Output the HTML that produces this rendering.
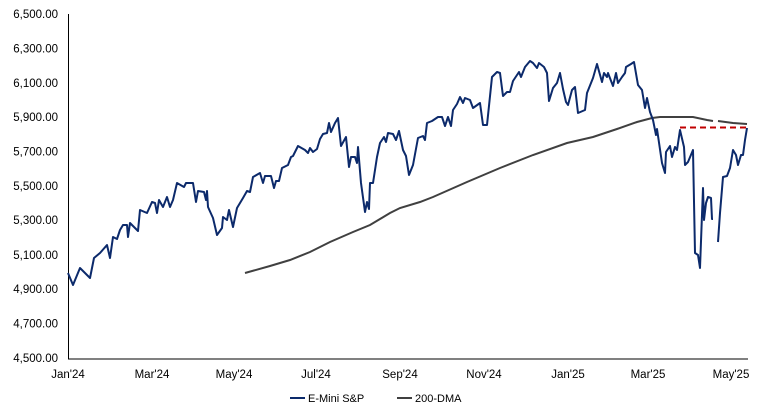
<!DOCTYPE html>
<html><head><meta charset="utf-8"><style>
html,body{margin:0;padding:0;background:#fff;}
svg{display:block;font-family:"Liberation Sans",Arial,sans-serif;}
</style></head><body>
<svg width="772" height="411" viewBox="0 0 772 411">
<g font-size="11.5" fill="#000" text-anchor="end">
<text x="58" y="18">6,500.00</text>
<text x="58" y="52.5">6,300.00</text>
<text x="58" y="87">6,100.00</text>
<text x="58" y="121">5,900.00</text>
<text x="58" y="155.5">5,700.00</text>
<text x="58" y="190">5,500.00</text>
<text x="58" y="224">5,300.00</text>
<text x="58" y="259">5,100.00</text>
<text x="58" y="293">4,900.00</text>
<text x="58" y="327.5">4,700.00</text>
<text x="58" y="362">4,500.00</text>
</g>
<g font-size="11.5" fill="#000" text-anchor="middle">
<text x="68" y="378">Jan'24</text>
<text x="152" y="378">Mar'24</text>
<text x="234" y="378">May'24</text>
<text x="316" y="378">Jul'24</text>
<text x="400" y="378">Sep'24</text>
<text x="484" y="378">Nov'24</text>
<text x="568" y="378">Jan'25</text>
<text x="648" y="378">Mar'25</text>
<text x="731" y="378">May'25</text>
</g>
<path d="M68.5 14V359H748" fill="none" stroke="#000" stroke-width="1"/>
<polyline fill="none" stroke="#404040" stroke-width="2" points="245,273 270,266 290,260 310,252 330,242 353,232 370,225 390,213 400,208 420,202 433,197 467,182 500,168 533,155 567,143 593,137 617,129 637,122 652,118 660,117 673,117 693,117 707,120 713,121"/>
<polyline fill="none" stroke="#404040" stroke-width="2" points="718,121 733,123 747,124"/>
<line x1="680" y1="127.5" x2="747" y2="127.5" stroke="#c00000" stroke-width="2" stroke-dasharray="6,4"/>
<polyline fill="none" stroke="#0c2a6b" stroke-width="2" stroke-linejoin="round" points="68,273 73,285 80,268 90,278 94,258 100,253 107,245 110,258 113,237 117,239 120,230 123,225 127,225 128,237 130,223 138,231 140,210 147,213 152,202 155,203 157,213 159,200 163,207 167,197 170,207 173,200 177,183 184,187 186,183 193,183 196,202 198,191 204,192 206,200 207,191 208,207 213,218 217,235 222,228 223,217 227,220 229,210 233,227 237,208 243,198 247,191 250,192 253,177 260,173 263,183 265,176 271,176 274,188 276,181 279,181 282,168 288,165 291,157 293,156 298,146 305,150 308,153 310,148 313,152 317,149 320,139 323,134 327,133 329,123 331,132 335,123 338,118 341,146 346,137 349,167 351,157 355,157 357,163 358,147 361,183 365,212 367,202 369,209 370,183 373,183 377,157 380,143 384,137 386,142 388,133 393,134 396,140 399,131 403,150 406,156 409,175 413,165 418,138 423,136 425,140 427,123 432,121 438,117 442,117 445,126 448,117 451,126 453,110 457,104 460,97 463,103 465,98 470,100 473,108 480,103 483,125 487,125 492,77 497,72 500,73 503,96 507,92 510,92 513,81 519,72 521,77 525,67 530,61 533,63 537,68 539,63 544,67 547,73 549,101 553,88 557,83 560,73 563,89 566,102 568,105 572,90 575,87 578,113 585,110 587,93 591,83 593,78 597,64 602,82 604,73 607,77 608,73 613,86 616,73 618,83 622,77 625,73 626,67 631,64 634,62 638,85 642,90 645,108 647,98 650,112 653,120 656,135 657,129 662,163 665,173 666,152 670,146 672,157 675,147 677,150 680,130 684,147 685,165 688,162 693,150 695,253 698,255 700,268 703,188 704,220 706,203 708,197 711,198 712,219 713,219"/>
<polyline fill="none" stroke="#0c2a6b" stroke-width="2" stroke-linejoin="round" points="718,242 720,213 723,177 727,176 730,168 733,150 736,155 738,165 741,155 743,155 745,140 747,128"/>
<line x1="290" y1="398" x2="305" y2="398" stroke="#0c2a6b" stroke-width="2"/>
<text x="308" y="402" font-size="11">E-Mini S&amp;P</text>
<line x1="397" y1="398" x2="412" y2="398" stroke="#404040" stroke-width="2"/>
<text x="415" y="402" font-size="11">200-DMA</text>
</svg>
</body></html>
